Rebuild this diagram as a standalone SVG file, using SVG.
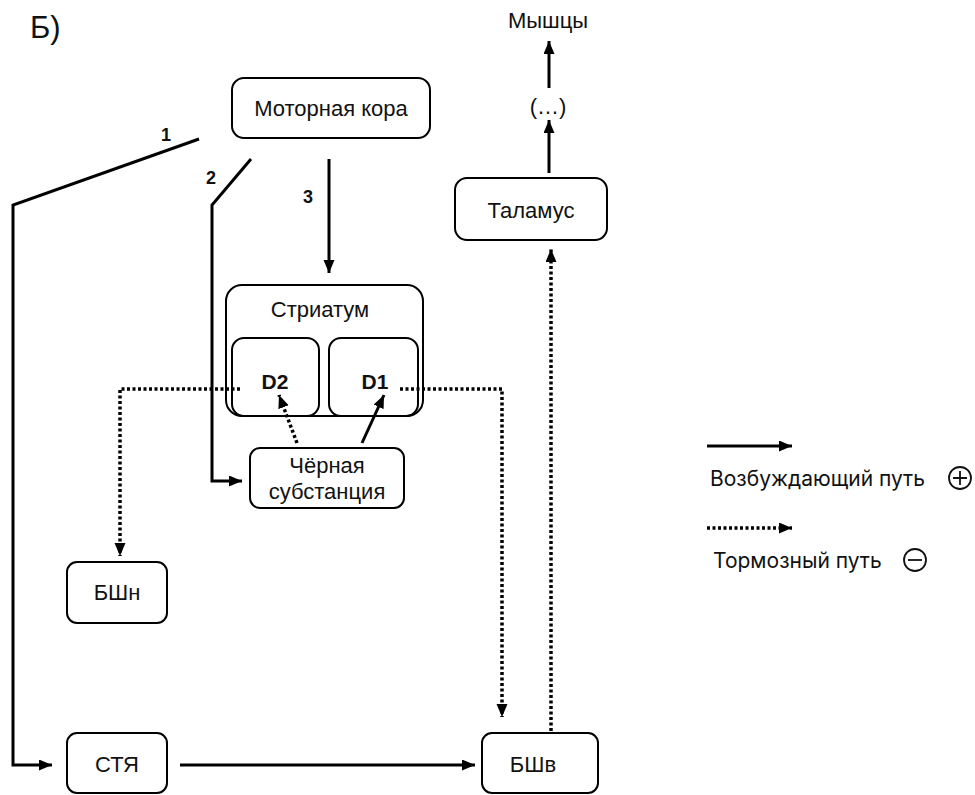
<svg xmlns="http://www.w3.org/2000/svg" width="975" height="795" viewBox="0 0 975 795">
<defs>
<marker id="ah" markerUnits="userSpaceOnUse" markerWidth="14" markerHeight="12" refX="13" refY="5.5" orient="auto">
<path d="M0,0 L13,5.5 L0,11 z" fill="#000"/>
</marker>
<style>
.box{fill:#fff;stroke:#000;stroke-width:2}
.t{font-family:"Liberation Sans",Arial,sans-serif;font-size:22px;fill:#111;text-anchor:middle}
.b{font-family:"Liberation Sans",Arial,sans-serif;font-size:21px;font-weight:bold;fill:#111;text-anchor:middle}
.n{font-family:"Liberation Sans",Arial,sans-serif;font-size:18px;font-weight:bold;fill:#111;text-anchor:middle}
.lg{font-family:"Inter","Liberation Sans",sans-serif;font-size:21px;fill:#111}
.s{fill:none;stroke:#000;stroke-width:3}
.d{fill:none;stroke:#000;stroke-width:3.5;stroke-dasharray:3 2.5}
</style>
</defs>
<rect width="975" height="795" fill="#fff"/>
<text x="30" y="38" font-family="Liberation Sans,Arial,sans-serif" font-size="31" fill="#111">Б)</text>

<g id="motor"><rect class="box" x="232" y="78" width="198" height="60" rx="12"/><text class="t" x="331" y="116">Моторная кора</text></g>
<g id="striatum"><rect class="box" x="226" y="285" width="197" height="131" rx="16"/><text class="t" x="320" y="317">Стриатум</text></g>
<g id="d2"><rect class="box" x="232" y="338" width="87" height="78" rx="12" style="fill:none"/><text class="b" x="275" y="389">D2</text></g>
<g id="d1"><rect class="box" x="329" y="338" width="89" height="78" rx="12" style="fill:none"/><text class="b" x="375" y="389">D1</text></g>
<g id="sn"><rect class="box" x="250" y="448" width="154" height="60" rx="10"/><text class="t" x="327" y="473">Чёрная</text><text class="t" x="327" y="499">субстанция</text></g>
<g id="bshn"><rect class="box" x="67" y="562" width="100" height="61" rx="10"/><text class="t" x="117" y="600">БШн</text></g>
<g id="stya"><rect class="box" x="67" y="733" width="100" height="60" rx="10"/><text class="t" x="117" y="772">СТЯ</text></g>
<g id="bshv"><rect class="box" x="482" y="733" width="116" height="60" rx="10"/><text class="t" x="533" y="772">БШв</text></g>
<g id="thalamus"><rect class="box" x="455" y="178" width="152" height="62" rx="12"/><text class="t" x="531" y="218">Таламус</text></g>
<g id="dots"><text class="t" x="548" y="114">(…)</text></g>
<g id="muscles"><text class="t" x="548" y="28">Мышцы</text></g>

<g id="connectors">
<polyline class="s" points="199,139 13,205 13,765 52,765" marker-end="url(#ah)"/>
<polyline class="s" points="251,159 212,205 212,481 242,481" marker-end="url(#ah)"/>
<line class="s" x1="329" y1="159" x2="329" y2="273" marker-end="url(#ah)"/>
<polyline class="d" points="240,389 120,389 120,556" marker-end="url(#ah)"/>
<polyline class="d" points="400,389 502,389 502,717" marker-end="url(#ah)"/>
<line class="d" x1="551" y1="731" x2="551" y2="249" marker-end="url(#ah)"/>
<line class="d" x1="297" y1="443" x2="279" y2="395" marker-end="url(#ah)"/>
<line class="s" x1="362" y1="443" x2="384" y2="395" marker-end="url(#ah)"/>
<line class="s" x1="180" y1="765" x2="475" y2="765" marker-end="url(#ah)"/>
<line class="s" x1="549" y1="173" x2="549" y2="120" marker-end="url(#ah)"/>
<line class="s" x1="549" y1="88" x2="549" y2="41" marker-end="url(#ah)"/>
<text class="n" x="166" y="141">1</text>
<text class="n" x="211" y="184">2</text>
<text class="n" x="308" y="203">3</text>
</g>

<g id="legend">
<line class="s" x1="707" y1="446" x2="792" y2="446" marker-end="url(#ah)"/>
<text class="lg" x="710" y="486">Возбуждающий путь</text>
<circle cx="960" cy="478" r="11" fill="none" stroke="#111" stroke-width="1.8"/>
<path d="M953,478 H967 M960,471 V485" stroke="#111" stroke-width="1.8"/>
<line class="d" x1="707" y1="528" x2="792" y2="528" marker-end="url(#ah)"/>
<text class="lg" x="713" y="568">Тормозный путь</text>
<circle cx="915" cy="560" r="11" fill="none" stroke="#111" stroke-width="1.8"/>
<path d="M908,560 H922" stroke="#111" stroke-width="1.8"/>
</g>
</svg>
